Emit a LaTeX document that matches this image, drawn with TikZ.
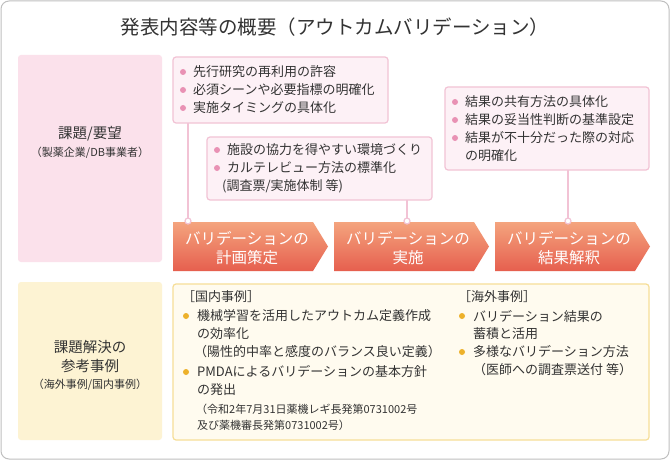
\documentclass[tikz,border=0pt]{standalone}
\usepackage{fontspec}
\setmainfont{Noto Sans CJK JP}
\usetikzlibrary{shapes.symbols,positioning}
\definecolor{pinkbg}{HTML}{FBE1EB}
\definecolor{pinkbub}{HTML}{FDF1F6}
\definecolor{pinkline}{HTML}{F2C3D5}
\definecolor{pinkdot}{HTML}{E991B4}
\definecolor{yelbg}{HTML}{FDF3D3}
\definecolor{yelbox}{HTML}{FFFBEF}
\definecolor{yelline}{HTML}{F6DE98}
\definecolor{yeldot}{HTML}{EDB12A}
\definecolor{arrtop}{HTML}{F4A47E}
\definecolor{arrbot}{HTML}{E65F4E}
\definecolor{txt}{HTML}{333333}
\tikzset{
  sidebox/.style={rounded corners=3pt, draw=none},
  bubble/.style={rounded corners=3pt, fill=pinkbub, draw=pinkline, line width=1.2pt},
  item/.style={anchor=west, inner sep=0pt, font=\fontsize{13}{15}\selectfont, text=txt},
  pdot/.style={fill=pinkdot},
  ydot/.style={fill=yeldot},
  stem/.style={draw=pinkline, line width=1.5pt},
  arrlabel/.style={text=white, font=\fontsize{15.5}{17}\selectfont, inner sep=0pt}
}
\begin{document}
\begin{tikzpicture}[x=1pt,y=-1pt]
    \useasboundingbox (0,0) rectangle (670,460);
    \draw[rounded corners=8pt, fill=white, draw=black!25, line width=1pt] (1,1) rectangle (669,459);

    % Title
    \node[text=txt, font=\fontsize{19.5}{22}\selectfont] (title) at (335,27) {発表内容等の概要（アウトカムバリデーション）};

    % Side labels
    \fill[sidebox, pinkbg] (18,55) rectangle (162,262);
    \node[text=txt, font=\fontsize{14.5}{16}\selectfont] (need) at (90,134) {課題/要望};
    \node[text=txt, font=\fontsize{11}{13}\selectfont] (needsub) at (90,153) {（製薬企業/DB事業者）};
    \fill[sidebox, yelbg] (18,282) rectangle (162,440);
    \node[text=txt, font=\fontsize{14.5}{16}\selectfont] (ref1) at (90,347) {課題解決の};
    \node[text=txt, font=\fontsize{14.5}{16}\selectfont] (ref2) at (90,366) {参考事例};
    \node[text=txt, font=\fontsize{11}{13}\selectfont] (refsub) at (90,385) {（海外事例/国内事例）};

    % Arrows (steps)
    \foreach \x/\nm/\lb in {173/plan/計画策定, 334/run/実施, 495/res/結果解釈} {
      \shade[top color=arrtop, bottom color=arrbot]
        (\x,222) -- (\x+140,222) -- (\x+155,246.5) -- (\x+140,271) -- (\x,271) -- cycle;
      \node[arrlabel] (\nm a) at (\x+74,238) {バリデーションの};
      \node[arrlabel] (\nm b) at (\x+74,258) {\lb};
    }

    % Stems
    \coordinate (s1) at (188,221);
    \coordinate (s2) at (407,221);
    \coordinate (s3) at (568,221);
    \draw[stem] (188,123) -- (s1);
    \draw[stem] (407,200) -- (s2);
    \draw[stem] (568,170) -- (s3);
    \foreach \c in {s1,s2,s3} \filldraw[fill=white, draw=pinkline, line width=1.2pt] (\c) circle (3pt);

    % Bubble 1
    \draw[bubble] (173,57) rectangle (388,123);
    \foreach \y/\t in {72/先行研究の再利用の許容, 90/必須シーンや必要指標の明確化, 108/実施タイミングの具体化} {
      \fill[pdot] (183,\y) circle (3pt);
      \node[item] at (193,\y) {\t};
    }

    % Bubble 2
    \draw[bubble] (207,137) rectangle (432,200);
    \foreach \y/\t in {150/施設の協力を得やすい環境づくり, 168/カルテレビュー方法の標準化} {
      \fill[pdot] (217,\y) circle (3pt);
      \node[item] at (227,\y) {\t};
    }
    \node[item] at (222,186) {(調査票/実施体制 等)};

    % Bubble 3
    \draw[bubble] (445,87) rectangle (649,170);
    \foreach \y/\t in {102/結果の共有方法の具体化, 120/結果の妥当性判断の基準設定, 138/結果が不十分だった際の対応} {
      \fill[pdot] (455,\y) circle (3pt);
      \node[item] at (465,\y) {\t};
    }
    \node[item] at (465,156) {の明確化};

    % Reference cases
    \draw[rounded corners=3pt, fill=yelbox, draw=yelline, line width=1.2pt] (173,284) rectangle (649,440);
    \node[item] at (182,297) {［国内事例］};
    \fill[ydot] (186,316) circle (3pt);
    \node[item] at (197,316) {機械学習を活用したアウトカム定義作成};
    \node[item] at (197,334) {の効率化};
    \node[item] at (194,352) {（陽性的中率と感度のバランス良い定義）};
    \fill[ydot] (186,372) circle (3pt);
    \node[item] at (197,372) {PMDAによるバリデーションの基本方針};
    \node[item] at (197,390) {の発出};
    \node[item, font=\fontsize{11}{13}\selectfont] at (196,409) {（令和2年7月31日薬機レギ長発第0731002号};
    \node[item, font=\fontsize{11}{13}\selectfont] at (197,425) {及び薬機審長発第0731002号）};

    \node[item] at (458,297) {［海外事例］};
    \fill[ydot] (462,316) circle (3pt);
    \node[item] at (473,316) {バリデーション結果の};
    \node[item] at (473,334) {蓄積と活用};
    \fill[ydot] (462,352) circle (3pt);
    \node[item] at (473,352) {多様なバリデーション方法};
    \node[item] at (473,370) {（医師への調査票送付 等）};
\end{tikzpicture}
\end{document}
